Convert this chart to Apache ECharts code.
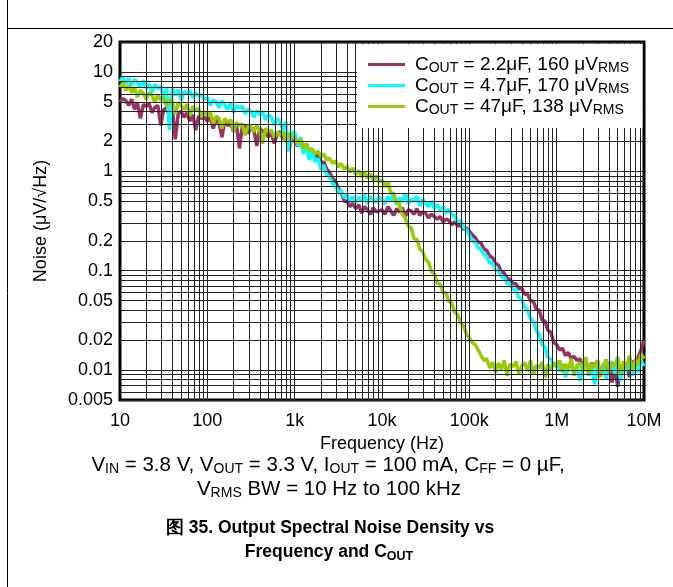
<!DOCTYPE html>
<html><head><meta charset="utf-8">
<script src="https://cdn.jsdelivr.net/npm/echarts@6/dist/echarts.min.js"></script>
<style>html,body{margin:0;padding:0;background:#fff}#c{width:673px;height:587px}</style>
</head><body><div id="c"></div>
<script>
const freqHz = [
10,10.8,11.7,12.6,13.6,14.7,15.8,17.1,18.5,20,21.5,23.3,25.1,27.1,29.3,31.6,34.1,36.9,39.8,43,46.4,50.1,54.1,58.4,63.1,68.1,73.6,79.4,85.8,92.6,
100,108,117,126,136,147,158,171,185,200,215,233,251,271,293,316,341,369,398,430,464,501,541,584,631,681,736,794,858,926,
1000,1080,1170,1260,1360,1470,1580,1710,1850,2000,2150,2330,2510,2710,2930,3160,3410,3690,3980,4300,4640,5010,5410,5840,6310,6810,7360,7940,8580,9260,
10000,10800,11700,12600,13600,14700,15800,17100,18500,20000,21500,23300,25100,27100,29300,31600,34100,36900,39800,43000,46400,50100,54100,58400,63100,68100,73600,79400,85800,92600,
100000,108000,117000,126000,136000,147000,158000,171000,185000,200000,215000,233000,251000,271000,293000,316000,341000,369000,398000,430000,464000,501000,541000,584000,631000,681000,736000,794000,858000,926000,
1000000,1080000,1170000,1260000,1360000,1470000,1580000,1710000,1850000,2000000,2150000,2330000,2510000,2710000,2930000,3160000,3410000,3690000,3980000,4300000,4640000,5010000,5410000,5840000,6310000,6810000,7360000,7940000,8580000,9260000,
10000000];

// COUT = 2.2 uF
const noise2u2 = [
5.0,5.4,5.1,4.6,5.3,4.2,4.9,3.4,4.7,4.5,4.8,3.9,4.4,4.6,2.9,4.2,4.3,3.6,4.1,2.1,3.8,4.0,3.5,3.9,3.2,3.7,2.6,3.6,3.4,3.5,
3.2,3.5,2.7,3.3,3.1,2.2,3.2,2.9,3.0,2.5,3.0,1.7,2.8,2.9,2.4,2.8,2.6,1.8,2.7,2.5,2.6,2.2,2.5,1.9,2.4,2.5,2.1,2.3,1.6,2.2,
2.0,1.8,2.1,1.6,1.9,1.5,1.6,1.4,1.45,1.2,1.25,1.05,0.98,0.85,0.8,0.68,0.62,0.5,0.5,0.44,0.48,0.42,0.46,0.38,0.44,0.41,0.37,0.43,0.39,0.40,
0.41,0.37,0.44,0.40,0.36,0.42,0.39,0.43,0.35,0.41,0.40,0.37,0.42,0.36,0.39,0.38,0.34,0.37,0.35,0.33,0.35,0.31,0.33,0.32,0.29,0.31,0.28,0.29,0.26,0.27,
0.25,0.23,0.215,0.195,0.19,0.165,0.16,0.14,0.135,0.118,0.114,0.097,0.095,0.083,0.082,0.074,0.074,0.066,0.066,0.058,0.058,0.05,0.049,0.041,0.04,0.032,0.031,0.025,0.024,0.019,
0.018,0.016,0.0165,0.014,0.015,0.013,0.0138,0.0125,0.013,0.0105,0.0122,0.0095,0.0118,0.0108,0.0125,0.0088,0.0115,0.0098,0.012,0.0075,0.0105,0.0068,0.011,0.0095,0.0118,0.0085,0.0125,0.0105,0.0135,0.016,
0.020];

// COUT = 4.7 uF
const noise4u7 = [
8.0,8.9,7.6,8.6,7.3,8.4,7.9,7.0,8.2,6.9,7.6,6.2,7.5,6.8,7.2,5.4,6.9,2.6,6.8,5.8,6.6,5.2,6.4,6.0,6.5,5.5,6.2,5.7,5.9,5.3,
5.5,4.6,5.2,5.0,4.4,5.1,4.7,4.2,4.8,3.9,4.6,4.3,4.5,3.8,4.2,4.0,3.5,4.1,3.7,3.9,3.3,3.7,3.5,2.9,3.4,3.2,2.6,3.1,1.6,2.4,
2.5,1.8,2.2,1.5,1.9,1.3,1.6,1.25,1.35,1.05,1.15,0.92,0.88,0.75,0.72,0.62,0.64,0.54,0.58,0.50,0.56,0.48,0.55,0.50,0.58,0.47,0.56,0.52,0.49,0.55,
0.52,0.47,0.56,0.50,0.58,0.46,0.54,0.49,0.60,0.47,0.53,0.50,0.56,0.45,0.52,0.48,0.44,0.50,0.42,0.46,0.41,0.44,0.38,0.42,0.36,0.36,0.31,0.32,0.27,0.26,
0.23,0.2,0.195,0.17,0.165,0.145,0.14,0.12,0.118,0.102,0.1,0.087,0.086,0.074,0.074,0.065,0.064,0.054,0.051,0.043,0.04,0.033,0.031,0.025,0.023,0.018,0.017,0.0135,0.0128,0.0112,
0.011,0.0098,0.0115,0.0085,0.0105,0.0118,0.0092,0.011,0.0078,0.0102,0.012,0.0088,0.0112,0.0072,0.0105,0.0095,0.0115,0.0082,0.0108,0.0122,0.009,0.011,0.0078,0.0115,0.0098,0.0125,0.0088,0.0112,0.0095,0.0125,
0.011];

// COUT = 47 uF
const noise47u = [
7.0,7.8,6.5,7.4,6.2,7.0,5.6,6.5,6.1,5.3,6.2,5.8,4.9,5.9,5.2,5.5,4.5,5.3,4.9,3.8,4.9,4.6,4.2,4.7,3.6,4.5,4.1,4.3,3.5,4.0,
3.6,3.9,3.0,3.6,3.4,2.7,3.4,3.1,3.3,2.5,3.1,2.9,3.0,2.3,2.9,2.8,2.5,2.9,2.6,1.9,2.7,2.5,2.6,2.2,2.5,2.3,2.5,2.0,2.4,2.2,
2.2,1.9,2.1,1.7,1.9,1.6,1.7,1.5,1.6,1.4,1.5,1.3,1.35,1.2,1.28,1.1,1.2,1.05,1.12,0.98,1.08,0.92,1.02,0.88,0.98,0.85,0.95,0.80,0.90,0.78,
0.82,0.70,0.78,0.60,0.60,0.48,0.47,0.37,0.34,0.28,0.27,0.21,0.205,0.165,0.155,0.13,0.122,0.098,0.093,0.075,0.073,0.06,0.06,0.049,0.047,0.038,0.036,0.030,0.028,0.023,
0.021,0.019,0.018,0.016,0.014,0.0125,0.013,0.0105,0.012,0.0095,0.0118,0.0102,0.0125,0.0088,0.0115,0.0108,0.0122,0.0092,0.011,0.0118,0.0098,0.0125,0.009,0.0112,0.0105,0.012,0.0085,0.0115,0.0102,0.0118,
0.011,0.0125,0.0095,0.0115,0.0102,0.013,0.0088,0.0112,0.0118,0.0098,0.0135,0.0092,0.0115,0.0105,0.0125,0.0085,0.011,0.0128,0.0095,0.0118,0.0108,0.0135,0.009,0.0122,0.0105,0.014,0.0098,0.0128,0.0112,0.0145,
0.013];

const seriesNames = ['COUT = 2.2μF, 160 μVRMS', 'COUT = 4.7μF, 170 μVRMS', 'COUT = 47μF, 138 μVRMS'];
const legendRich = ['{n|C}{s|OUT}{n| = 2.2μF, 160 μV}{s|RMS}', '{n|C}{s|OUT}{n| = 4.7μF, 170 μV}{s|RMS}', '{n|C}{s|OUT}{n| = 47μF, 138 μV}{s|RMS}'];
const seriesColors = ['#993366', '#00FFFF', '#99CC00'];

const xTickLabels = ['10', '100', '1k', '10k', '100k', '1M', '10M'];
const yTickValues = [20, 10, 5, 2, 1, 0.5, 0.2, 0.1, 0.05, 0.02, 0.01, 0.005];
const yTickLabels = ['20', '10', '5', '2', '1', '0.5', '0.2', '0.1', '0.05', '0.02', '0.01', '0.005'];

const FONT = '"Liberation Sans", Arial, Helvetica, sans-serif';

// grid lines at 1..9 x each decade
const gridMarks = [];
for (let e = 1; e <= 6; e++) for (let m = 1; m <= 9; m++) { const v = m * Math.pow(10, e); if (v > 10 && v < 1e7) gridMarks.push({ xAxis: v }); }
for (let e = -3; e <= 1; e++) for (let m = 1; m <= 9; m++) {
  const v = +(m * Math.pow(10, e)).toPrecision(3);
  if (v > 0.005 && v < 20 && yTickValues.indexOf(v) < 0) gridMarks.push({ yAxis: v });
}
const labelMarks = yTickValues.map((v, i) => ({
  yAxis: v,
  label: { show: true, position: 'start', distance: 7, formatter: yTickLabels[i], color: '#000', fontSize: 18, fontFamily: FONT, opacity: 1 }
}));

const chart = echarts.init(document.getElementById('c'), null, { renderer: 'canvas' });
const vals = [noise2u2, noise4u7, noise47u];
const legSub = { n: { fontSize: 19, lineHeight: 21, fontFamily: FONT, color: '#000' }, s: { fontSize: 14, lineHeight: 14, verticalAlign: 'bottom', fontFamily: FONT, color: '#000' } };
const capSub = { n: { fontSize: 20.5, lineHeight: 22, fontFamily: FONT, color: '#000', fontWeight: 'normal' }, s: { fontSize: 14, lineHeight: 14, verticalAlign: 'bottom', fontFamily: FONT, color: '#000', fontWeight: 'normal' } };
const capB = { n: { fontSize: 17.5, lineHeight: 21, fontFamily: FONT, color: '#000', fontWeight: 'bold' }, s: { fontSize: 12.5, lineHeight: 13, verticalAlign: 'bottom', fontFamily: FONT, color: '#000', fontWeight: 'bold' } };

chart.setOption({
  animation: false,
  backgroundColor: '#fff',
  grid: { left: 120, right: 29, top: 42, bottom: 187, show: true, borderColor: '#000', borderWidth: 3, backgroundColor: 'transparent' },
  xAxis: {
    type: 'log', logBase: 10, min: 10, max: 1e7,
    axisLine: { show: false }, axisTick: { show: false }, splitLine: { show: false },
    axisLabel: { color: '#000', fontSize: 18, fontFamily: FONT, margin: 12, formatter: v => xTickLabels[Math.round(Math.log10(v)) - 1] },
    name: 'Frequency (Hz)', nameLocation: 'middle', nameGap: 31,
    nameTextStyle: { color: '#000', fontSize: 18, fontFamily: FONT }
  },
  yAxis: {
    type: 'log', logBase: 10, min: 0.005, max: 20,
    axisLine: { show: false }, axisTick: { show: false }, splitLine: { show: false }, axisLabel: { show: false },
    name: 'Noise (μV/√Hz)', nameLocation: 'middle', nameGap: 70,
    nameTextStyle: { color: '#000', fontSize: 18, fontFamily: FONT }
  },
  legend: {
    data: seriesNames, orient: 'vertical', left: 368, top: 55, itemGap: 1, itemWidth: 37, itemHeight: 3,
    icon: 'rect', z: 60, padding: 0,
    formatter: name => legendRich[seriesNames.indexOf(name)],
    textStyle: { rich: legSub, padding: [0, 0, 0, 5] }
  },
  graphic: [
    { type: 'rect', z: 50, shape: { x: 357, y: 44, width: 285.5, height: 84 }, style: { fill: '#fff' } },
    { type: 'line', z: 50, shape: { x1: 7.5, y1: 0, x2: 7.5, y2: 587 }, style: { stroke: '#000', lineWidth: 1 } },
    { type: 'line', z: 50, shape: { x1: 7, y1: 28.5, x2: 673, y2: 28.5 }, style: { stroke: '#000', lineWidth: 1 } }
  ],
  title: [
    { text: '{n|V}{s|IN}{n| = 3.8 V, V}{s|OUT}{n| = 3.3 V, I}{s|OUT}{n| = 100 mA, C}{s|FF}{n| = 0 µF,}', left: 328, textAlign: 'center', top: 454, padding: 0, textStyle: { rich: capSub, fontWeight: 'normal' } },
    { text: '{n|V}{s|RMS}{n| BW = 10 Hz to 100 kHz}', left: 329, textAlign: 'center', top: 478, padding: 0, textStyle: { rich: capSub, fontWeight: 'normal' } },
    { text: '{n|图 35. Output Spectral Noise Density vs}', left: 330, textAlign: 'center', top: 518, padding: 0, textStyle: { rich: capB } },
    { text: '{n|Frequency and C}{s|OUT}', left: 329, textAlign: 'center', top: 542, padding: 0, textStyle: { rich: capB } }
  ],
  series: [
    { type: 'line', name: '_grid', data: [], z: 1, silent: true, clip: false,
      markLine: { silent: true, precision: 6, symbol: ['none', 'none'], animation: false, label: { show: false },
        lineStyle: { color: '#222', width: 1, type: 'solid' }, emphasis: { disabled: true }, data: gridMarks.concat(labelMarks) } }
  ].concat(seriesNames.map((n, i) => ({
    type: 'line', name: n, data: freqHz.map((f, j) => [f, vals[i][j]]), showSymbol: false, symbol: 'none',
    lineStyle: { color: seriesColors[i], width: 3.5 }, itemStyle: { color: seriesColors[i] }, z: 2 + i
  })))
});
</script></body></html>
